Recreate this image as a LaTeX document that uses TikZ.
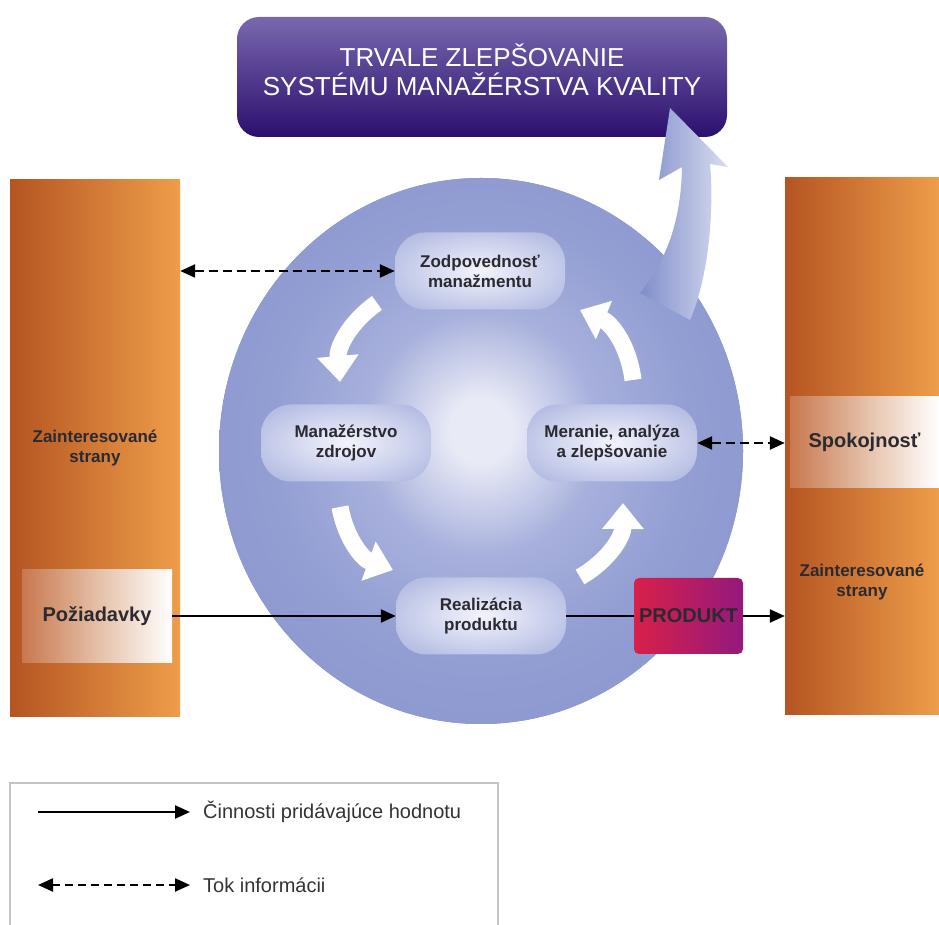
\documentclass[tikz,border=0pt]{standalone}
\usepackage{fontspec}
\setmainfont{Liberation Sans}
\usetikzlibrary{positioning,shapes.geometric,arrows.meta}

\definecolor{barleft}{HTML}{B45522}
\definecolor{barright}{HTML}{EE9D4A}
\definecolor{tagleft}{HTML}{C8784E}
\definecolor{tagmid}{HTML}{E4BFA6}
\definecolor{titletop}{HTML}{7968AE}
\definecolor{titlebottom}{HTML}{2B0F6E}
\definecolor{prodleft}{HTML}{D8204A}
\definecolor{prodright}{HTML}{94197C}
\definecolor{bigleft}{HTML}{7F8EC9}
\definecolor{bigright}{HTML}{DADDF1}
\definecolor{glowcore}{HTML}{E8EAF6}
\definecolor{glowmid}{HTML}{A8B1DC}
\definecolor{ringinner}{HTML}{939ED3}
\definecolor{ringmid}{HTML}{8491CA}
\definecolor{ringedge}{HTML}{7785C2}
\definecolor{pillcore}{HTML}{F2F3FB}
\definecolor{pillmid}{HTML}{D2D7EF}
\definecolor{pillouter}{HTML}{A5AEDB}
\definecolor{pilledge}{HTML}{929DD2}
\definecolor{labeltext}{HTML}{2A2A30}
\definecolor{legendtext}{HTML}{333333}
\definecolor{legendgray}{HTML}{C4C4C4}

\pgfdeclareradialshading{ringglow}{\pgfpoint{0bp}{2bp}}{color(0bp)=(glowcore); color(3bp)=(glowcore); color(11bp)=(glowmid); color(20bp)=(ringinner); color(38bp)=(ringmid); color(50bp)=(ringedge)}
\pgfdeclareradialshading{pillglow}{\pgfpoint{0bp}{0bp}}{color(0bp)=(pillcore); color(16bp)=(pillmid); color(38bp)=(pillouter); color(50bp)=(pilledge)}

\begin{document}
\begin{tikzpicture}[
    x=1pt, y=1pt,
    bartext/.style={align=center, text=labeltext, font=\fontsize{17}{20}\selectfont\bfseries},
    bar/.style={bartext, rectangle, minimum height=536pt, left color=barleft, right color=barright},
    tag/.style={rectangle, minimum width=150pt, minimum height=92pt, left color=tagleft,
        right color=white, middle color=tagmid, text=labeltext, font=\fontsize{20}{24}\selectfont\bfseries},
    pill/.style={rectangle, rounded corners=30pt, minimum width=170pt, minimum height=77pt,
        shading=pillglow, align=center, text=labeltext, font=\fontsize{17}{20}\selectfont\bfseries},
    flow/.style={line width=2.4pt, -{Triangle[length=15pt,width=13pt]}},
    info/.style={line width=2.4pt, dash pattern=on 9pt off 5pt,
        {Triangle[length=15pt,width=13pt]}-{Triangle[length=15pt,width=13pt]}},
    cyc/.style={white, line width=17pt, -{Triangle[length=26pt,width=40pt]}},
    legtext/.style={anchor=west, inner sep=0pt, text=legendtext, font=\fontsize{20}{24}\selectfont}
]
    \useasboundingbox[fill=white] (0,0) rectangle (939,924);

    % interested parties on both sides
    \node[bar, minimum width=170pt] (zainL) at (95,476) {Zainteresované\\strany};
    \node[bar, minimum width=154pt] (zainR) at (862,478) {};
    \node[tag] (poziad) at (97,308) {Požiadavky};
    \node[tag, minimum width=149pt, minimum height=91pt] (spokoj) at (864.5,481.5) {Spokojnosť};
    \node[bartext] (zainRtxt) at (862,342) {Zainteresované\\strany};

    % the process circle and the goal above it
    \node[ellipse, minimum width=524pt, minimum height=546pt, inner sep=0pt,
        preaction={fill=ringedge}, shading=ringglow] (kruh) at (481,473) {};
    \node[rectangle, rounded corners=22pt, minimum width=490pt, minimum height=120pt,
        top color=titletop, bottom color=titlebottom] (titul) at (482,847) {};
    \node[align=center, text=white, font=\fontsize{26}{29}\selectfont, yshift=7pt] (titultxt) at (titul) {TRVALE ZLEPŠOVANIE\\SYSTÉMU MANAŽÉRSTVA KVALITY};

    \path[left color=bigleft, right color=bigright]
        (640,631) .. controls (665,662) and (681,700) .. (682,757) -- (659,744) -- (670,816)
        -- (728,757) -- (710,760) .. controls (714,720) and (710,650) .. (690,604) -- cycle;

    % cycle arrows
    \draw[cyc] (377,621) to[bend right=30] (340,542);
    \draw[cyc] (340,417) to[bend right=30] (393,354);
    \draw[cyc] (580,347) to[bend right=30] (623,421);
    \draw[cyc] (633,544) to[bend right=30] (580,614);

    \node[pill] (zodp) at (480,653) {Zodpovednosť\\manažmentu};
    \node[pill] (zdroje) at (346,481) {Manažérstvo\\zdrojov};
    \node[pill] (meranie) at (612,481) {Meranie, analýza\\a zlepšovanie};
    \node[pill] (realiz) at (481,308) {Realizácia\\produktu};
    \node[rectangle, rounded corners=5pt, minimum width=109pt, minimum height=76pt, inner xsep=2pt,
        left color=prodleft, right color=prodright, text=labeltext,
        font=\fontsize{20}{24}\selectfont\bfseries] (produkt) at (688.5,308) {PRODUKT};

    \path[flow]
        (poziad.east) edge (realiz.west)
        (produkt.east) edge (produkt.east -| zainR.west);
    \draw[line width=2.4pt] (realiz.east) -- (produkt.west);
    \path[info]
        (zodp.west -| zainL.east) edge (zodp.west)
        (meranie.east) edge (meranie.east -| zainR.west);

    % legend
    \draw[legendgray, line width=1.5pt] (10,-2) |- (498,141) -- (498,-2);
    \coordinate (legA1) at (38,112);
    \coordinate (legA2) at (190,112);
    \coordinate (legB1) at (38,39);
    \coordinate (legB2) at (190,39);
    \node[legtext] (legAtxt) at (203,112) {Činnosti pridávajúce hodnotu};
    \node[legtext] (legBtxt) at (203,39) {Tok informácii};
    \draw[flow] (legA1) -- (legA2);
    \draw[info, dash pattern=on 8pt off 5pt] (legB1) -- (legB2);
\end{tikzpicture}
\end{document}
